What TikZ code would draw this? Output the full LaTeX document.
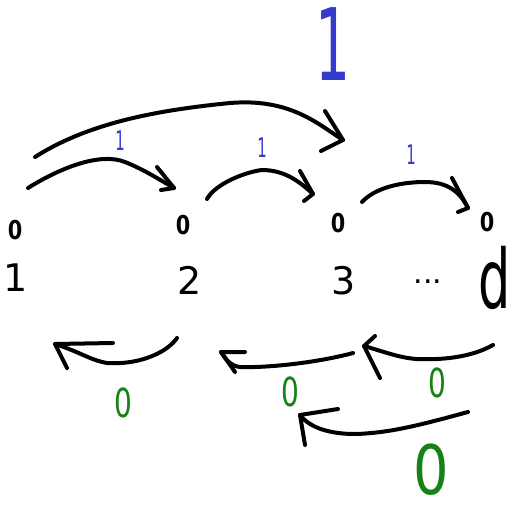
\documentclass[tikz,border=0pt]{standalone}
\usepackage{fontspec}
\setmainfont{DejaVu Sans}
\definecolor{inkblue}{RGB}{52,58,204}
\definecolor{inkgreen}{RGB}{22,130,22}
\begin{document}
\begin{tikzpicture}[x=1pt,y=-1pt,
  every node/.style={inner sep=0pt,text depth=0pt},
  stroke/.style={draw=black,line width=4pt,line cap=round,line join=round},
  bluelabel/.style={text=inkblue,font=\fontsize{27}{27}\selectfont,xscale=0.55},
  greenlabel/.style={text=inkgreen,font=\fontsize{40}{40}\selectfont,xscale=0.7},
  statemark/.style={font=\bfseries\fontsize{26}{26}\selectfont,xscale=0.8},
  statename/.style={font=\fontsize{38}{38}\selectfont}]
\useasboundingbox (0,0) rectangle (521,509);

% big label over the long jump
\node[text=inkblue,font=\fontsize{100}{100}\selectfont,xscale=0.55] (top) at (333,44) {1};

% states: a small 0 above each index
\node[statemark] (s1) at (15,230) {0};
\node[statemark] (s2) at (183,225) {0};
\node[statemark] (s3) at (338,223) {0};
\node[statemark] (sd) at (487,222) {0};
\node[statename] (n1) at (16,278) {1};
\node[statename] (n2) at (190,280) {2};
\node[statename] (n3) at (344,280) {3};
\node[font=\fontsize{30}{30}\selectfont] (dots) at (428,282) {...};
\node[font=\fontsize{82}{82}\selectfont,xscale=0.62] (nd) at (495,277) {d};

% forward jumps (labelled 1)
\coordinate (a1) at (35,157);  \coordinate (b1) at (343,140);
\coordinate (a2) at (28,188);  \coordinate (b2) at (174,188);
\coordinate (a3) at (207,199); \coordinate (b3) at (313,194);
\coordinate (a4) at (362,202); \coordinate (b4) at (468,208);

\draw[stroke] (a1) .. controls (90,122) and (160,110) .. (230,103)
               .. controls (290,98) and (318,124) .. (b1);
\draw[stroke] (325,111) -- (b1) -- (321,151);
\draw[stroke] (a2) .. controls (60,168) and (100,152) .. (125,162)
               .. controls (145,170) and (160,180) .. (b2);
\draw[stroke] (157,167) -- (b2) -- (161,190);
\draw[stroke] (a3) .. controls (215,184) and (245,172) .. (262,170)
               .. controls (285,170) and (300,182) .. (b3);
\draw[stroke] (300,171) -- (b3) -- (304,201);
\draw[stroke] (a4) .. controls (375,188) and (400,182) .. (425,182)
               .. controls (448,182) and (460,192) .. (b4);
\draw[stroke] (452,178) -- (b4) -- (458,212);

\node[bluelabel] (l1) at (120,141) {1};
\node[bluelabel] (l2) at (262,148) {1};
\node[bluelabel] (l3) at (411,155) {1};

% backward jumps (labelled 0)
\coordinate (c1) at (177,338); \coordinate (e1) at (55,344);
\coordinate (c2) at (353,353); \coordinate (e2) at (221,352);
\coordinate (c3) at (493,345); \coordinate (e3) at (364,346);
\coordinate (c4) at (468,412); \coordinate (e4) at (300,415);

\draw[stroke] (c1) .. controls (165,355) and (135,365) .. (107,363)
               .. controls (90,360) and (80,352) .. (e1);
\draw[stroke] (67,368) -- (e1) -- (113,343);
\draw[stroke] (c2) .. controls (320,362) and (270,368) .. (240,367)
               .. controls (230,366) and (225,358) .. (e2);
\draw[stroke] (235,372) -- (e2) -- (245,352);
\draw[stroke] (c3) .. controls (470,358) and (440,360) .. (417,359)
               .. controls (400,358) and (385,352) .. (e3);
\draw[stroke] (380,378) -- (e3) -- (375,336);
\draw[stroke] (c4) .. controls (420,425) and (390,433) .. (355,434)
               .. controls (330,434) and (310,428) .. (e4);
\draw[stroke] (305,445) -- (e4) -- (338,409);

\node[greenlabel] (g1) at (123,403) {0};
\node[greenlabel] (g2) at (290,392) {0};
\node[greenlabel] (g3) at (437,383) {0};
\node[text=inkgreen,font=\fontsize{62}{62}\selectfont,xscale=0.9,yscale=1.1] (g4) at (431,469) {0};
\end{tikzpicture}
\end{document}
